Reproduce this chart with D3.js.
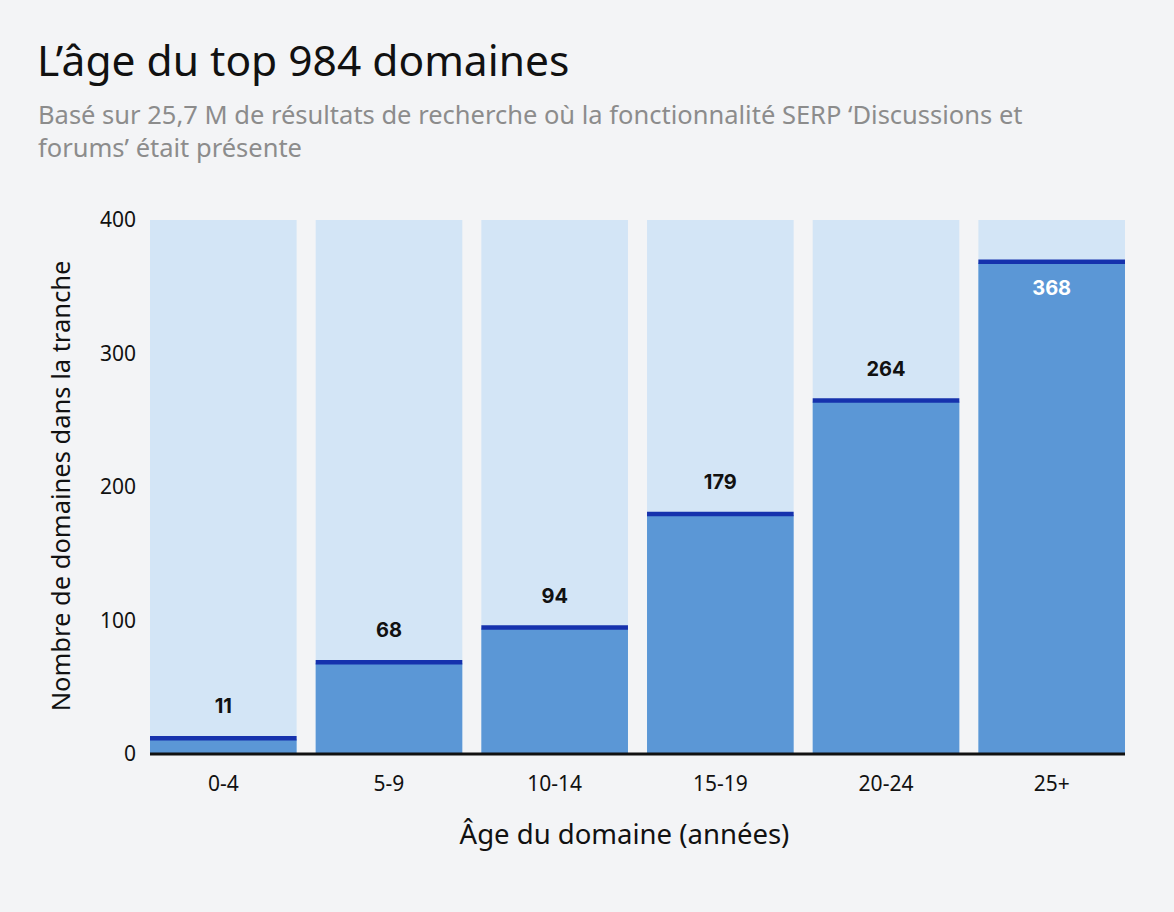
<!DOCTYPE html>
<html>
<head>
<meta charset="utf-8">
<script src="https://cdn.jsdelivr.net/npm/d3@7"></script>
<style>
  body { margin: 0; background: #f3f4f6; }
  svg { display: block; font-family: "Noto Sans", sans-serif; }
</style>
</head>
<body>
<div id="chart"></div>
<script>
// données
const tranches = ["0-4", "5-9", "10-14", "15-19", "20-24", "25+"];
const domaines = [11, 68, 94, 179, 264, 368];
const yTicks = [0, 100, 200, 300, 400];

const width = 1174, height = 912;
const margin = {top: 220, right: 49, bottom: 158, left: 150};

const svg = d3.select("#chart").append("svg")
    .attr("width", width)
    .attr("height", height);

svg.append("rect").attr("width", width).attr("height", height).attr("fill", "#f3f4f6");

// titre et sous-titre
svg.append("text")
    .attr("x", 37).attr("y", 76)
    .attr("font-size", 42.5).attr("fill", "#111")
    .text("L’âge du top 984 domaines");

const sub = svg.append("text")
    .attr("font-size", 25.5).attr("fill", "#8c8c8c");
sub.append("tspan").attr("x", 38).attr("y", 124)
    .text("Basé sur 25,7 M de résultats de recherche où la fonctionnalité SERP ‘Discussions et");
sub.append("tspan").attr("x", 38).attr("y", 157)
    .text("forums’ était présente");

const x = d3.scaleBand()
    .domain(tranches)
    .range([margin.left, width - margin.right])
    .paddingInner(0.115)
    .paddingOuter(0);

const y = d3.scaleLinear()
    .domain([0, 400])
    .range([height - margin.bottom, margin.top]);

const data = tranches.map((t, i) => ({tranche: t, value: domaines[i]}));

// fond clair (plein 400)
svg.append("g").selectAll("rect")
    .data(data)
    .join("rect")
    .attr("x", d => x(d.tranche))
    .attr("width", x.bandwidth())
    .attr("y", y(400))
    .attr("height", y(0) - y(400))
    .attr("fill", "#d3e5f6");

// barres
svg.append("g").selectAll("rect")
    .data(data)
    .join("rect")
    .attr("x", d => x(d.tranche))
    .attr("width", x.bandwidth())
    .attr("y", d => y(d.value))
    .attr("height", d => y(0) - y(d.value))
    .attr("fill", "#5b97d6");

// trait foncé au sommet
svg.append("g").selectAll("line")
    .data(data)
    .join("line")
    .attr("x1", d => x(d.tranche))
    .attr("x2", d => x(d.tranche) + x.bandwidth())
    .attr("y1", d => y(d.value) - 1)
    .attr("y2", d => y(d.value) - 1)
    .attr("stroke", "#1632ad")
    .attr("stroke-width", 4.5);

// étiquettes de valeur
svg.append("g").selectAll("text")
    .data(data)
    .join("text")
    .attr("x", d => x(d.tranche) + x.bandwidth() / 2)
    .attr("y", d => d.value > 350 ? y(d.value) + 32 : y(d.value) - 26)
    .attr("text-anchor", "middle")
    .attr("font-family", "Inter, sans-serif")
    .attr("font-weight", 700)
    .attr("font-size", 20)
    .attr("fill", d => d.value > 350 ? "#fff" : "#111")
    .text(d => d.value);

// axe x
const xAxis = svg.append("g")
    .attr("transform", `translate(0,${y(0)})`)
    .call(d3.axisBottom(x).tickSize(0).tickPadding(22));
xAxis.select(".domain").attr("stroke", "#111").attr("stroke-width", 3)
    .attr("d", `M${margin.left},0H${width - margin.right}`);
xAxis.selectAll("text").attr("font-size", 21).attr("fill", "#111")
    .attr("font-family", "Noto Sans, sans-serif");

// axe y
const yAxis = svg.append("g")
    .attr("transform", `translate(${margin.left},0)`)
    .call(d3.axisLeft(y).tickValues(yTicks).tickSize(0).tickPadding(14));
yAxis.select(".domain").remove();
yAxis.selectAll("text").attr("font-size", 21).attr("fill", "#111")
    .attr("font-family", "Noto Sans, sans-serif");

// titres des axes
svg.append("text")
    .attr("x", (margin.left + width - margin.right) / 2 - 13)
    .attr("y", 844)
    .attr("text-anchor", "middle")
    .attr("font-size", 27.5).attr("fill", "#111")
    .text("Âge du domaine (années)");

svg.append("text")
    .attr("transform", `translate(70,${(y(0) + y(400)) / 2 - 1}) rotate(-90)`)
    .attr("text-anchor", "middle")
    .attr("font-size", 25.5).attr("fill", "#111")
    .text("Nombre de domaines dans la tranche");
</script>
</body>
</html>
